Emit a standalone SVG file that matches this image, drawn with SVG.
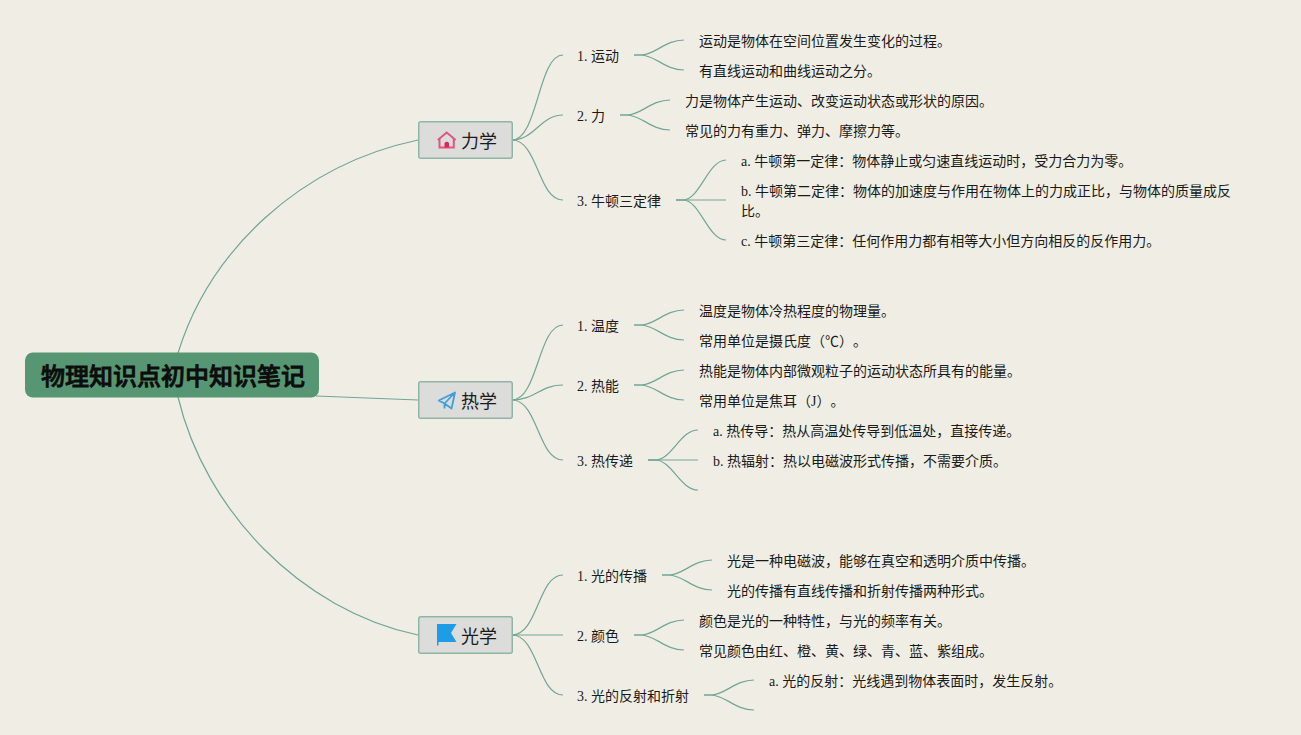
<svg xmlns="http://www.w3.org/2000/svg" width="1301" height="735" viewBox="0 0 1301 735">
<style>
text{font-family:"Liberation Serif","Noto Sans CJK SC",serif;fill:#1a1a1a;font-size:14px;text-spacing-trim:space-all}
.root text{font-size:24px;font-weight:500;fill:#0d0d0d;stroke:#0d0d0d;stroke-width:.8;font-family:"Noto Sans CJK SC",sans-serif}
.main rect{fill:#dcdcdb;stroke:#8fb5a8;stroke-width:1.5}
.main text{font-size:18px;font-family:"Noto Sans CJK SC",sans-serif}
#connectors path{fill:none;stroke:#72a593;stroke-width:1.2}
</style>
<rect width="1301" height="735" fill="#f0eee4"/>
<g id="connectors">
<path d="M178 353C210 250 300 165 418 140"/>
<path d="M316 396L418 400"/>
<path d="M178 397C205 510 300 610 418 635"/>
<path d="M512 140C538 140 538 55 563 55"/>
<path d="M512 140C535 140 540 115 563 115"/>
<path d="M512 140C538 140 538 200 563 200"/>
<path d="M634 55H641C655 55 665 40 684 40"/>
<path d="M634 55H641C655 55 665 70 684 70"/>
<path d="M620 115H627C641 115 651 100 670 100"/>
<path d="M620 115H627C641 115 651 130 670 130"/>
<path d="M676 200H683C700 200 708 160 726 160"/>
<path d="M676 200H726"/>
<path d="M676 200H683C700 200 708 240 726 240"/>
<path d="M512 400C538 400 538 325 563 325"/>
<path d="M512 400C535 400 540 385 563 385"/>
<path d="M512 400C538 400 538 460 563 460"/>
<path d="M634 325H641C655 325 665 310 684 310"/>
<path d="M634 325H641C655 325 665 340 684 340"/>
<path d="M634 385H641C655 385 665 370 684 370"/>
<path d="M634 385H641C655 385 665 400 684 400"/>
<path d="M648 460H655C672 460 680 430 698 430"/>
<path d="M648 460H698"/>
<path d="M648 460H655C672 460 680 490 698 490"/>
<path d="M512 635C538 635 538 575 563 575"/>
<path d="M512 635H563"/>
<path d="M512 635C538 635 538 695 563 695"/>
<path d="M662 575H669C683 575 693 560 712 560"/>
<path d="M662 575H669C683 575 693 590 712 590"/>
<path d="M634 635H641C655 635 665 620 684 620"/>
<path d="M634 635H641C655 635 665 650 684 650"/>
<path d="M704 695H711C725 695 735 680 754 680"/>
<path d="M704 695H711C725 695 735 710 754 710"/>
</g>
<g id="root" class="root"><rect x="25" y="352.500" width="294" height="45" rx="8" fill="#579672"/><text x="41" y="385">物理知识点初中知识笔记</text></g>
<g id="lixue" class="main"><rect x="418.750" y="121.750" width="93.500" height="36.500" rx="2"/>
<path d="M437.800 140L446.700 132.500L455.600 140M439.500 138.500V147.500H453.800V138.500" fill="none" stroke="#e0567f" stroke-width="2"/><path d="M444.500 147.500V143Q446.700 140.500 449 143V147.500Z" fill="#e0245e"/>
<text x="461" y="148">力学</text></g>
<g id="rexue" class="main"><rect x="418.750" y="381.750" width="93.500" height="36.500" rx="2"/>
<path d="M455 392.500L438.800 400.500L444.500 403.500L455 392.500L451.500 408.500L444.500 403.500V408.500" fill="none" stroke="#3f9fdc" stroke-width="1.800" stroke-linejoin="round"/>
<text x="461" y="408">热学</text></g>
<g id="guangxue" class="main"><rect x="418.750" y="616.750" width="93.500" height="36.500" rx="2"/>
<path d="M437 624H456.500L451 633L456.500 642H438.500V645.500H437Z" fill="#1f9ce6"/>
<text x="461" y="643">光学</text></g>
<g id="n1"><text x="577" y="61">1. 运动</text></g>
<g id="n11"><text x="699" y="46">运动是物体在空间位置发生变化的过程。</text></g>
<g id="n12"><text x="699" y="76">有直线运动和曲线运动之分。</text></g>
<g id="n2"><text x="577" y="121">2. 力</text></g>
<g id="n21"><text x="685" y="106">力是物体产生运动、改变运动状态或形状的原因。</text></g>
<g id="n22"><text x="685" y="136">常见的力有重力、弹力、摩擦力等。</text></g>
<g id="n3"><text x="577" y="206">3. 牛顿三定律</text></g>
<g id="n31"><text x="741" y="166">a. 牛顿第一定律：物体静止或匀速直线运动时，受力合力为零。</text></g>
<g id="n32"><text x="741" y="196">b. 牛顿第二定律：物体的加速度与作用在物体上的力成正比，与物体的质量成反</text><text x="741" y="216">比。</text></g>
<g id="n33"><text x="741" y="246">c. 牛顿第三定律：任何作用力都有相等大小但方向相反的反作用力。</text></g>
<g id="n4"><text x="577" y="331">1. 温度</text></g>
<g id="n41"><text x="699" y="316">温度是物体冷热程度的物理量。</text></g>
<g id="n42"><text x="699" y="346">常用单位是摄氏度（℃）。</text></g>
<g id="n5"><text x="577" y="391">2. 热能</text></g>
<g id="n51"><text x="699" y="376">热能是物体内部微观粒子的运动状态所具有的能量。</text></g>
<g id="n52"><text x="699" y="406">常用单位是焦耳（J）。</text></g>
<g id="n6"><text x="577" y="466">3. 热传递</text></g>
<g id="n61"><text x="713" y="436">a. 热传导：热从高温处传导到低温处，直接传递。</text></g>
<g id="n62"><text x="713" y="466">b. 热辐射：热以电磁波形式传播，不需要介质。</text></g>
<g id="n7"><text x="577" y="581">1. 光的传播</text></g>
<g id="n71"><text x="727" y="566">光是一种电磁波，能够在真空和透明介质中传播。</text></g>
<g id="n72"><text x="727" y="596">光的传播有直线传播和折射传播两种形式。</text></g>
<g id="n8"><text x="577" y="641">2. 颜色</text></g>
<g id="n81"><text x="699" y="626">颜色是光的一种特性，与光的频率有关。</text></g>
<g id="n82"><text x="699" y="656">常见颜色由红、橙、黄、绿、青、蓝、紫组成。</text></g>
<g id="n9"><text x="577" y="701">3. 光的反射和折射</text></g>
<g id="n91"><text x="769" y="686">a. 光的反射：光线遇到物体表面时，发生反射。</text></g>
</svg>
